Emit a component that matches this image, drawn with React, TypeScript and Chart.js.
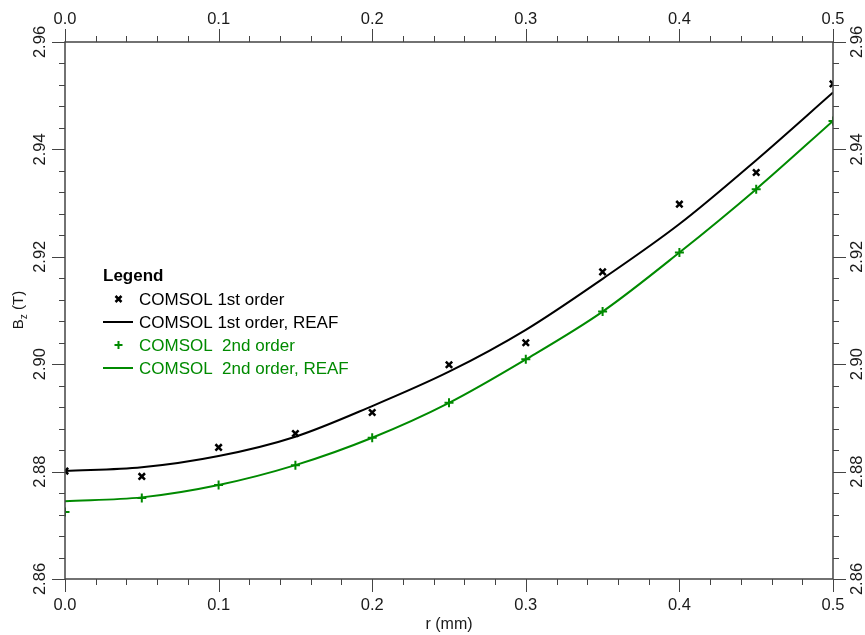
import React, { useEffect, useRef } from "react";
import { Chart, registerables } from "chart.js";

Chart.register(...registerables);

const rValues = [0, 0.05, 0.1, 0.15, 0.2, 0.25, 0.3, 0.35, 0.4, 0.45, 0.5];
const first = [2.8801, 2.8791, 2.8845, 2.8871, 2.891, 2.8999, 2.904, 2.9172, 2.9298, 2.9357, 2.9522];
const firstREAF = [2.8801, 2.8808, 2.8829, 2.8865, 2.8922, 2.8986, 2.9064, 2.9159, 2.9261, 2.938, 2.9506];
const second = [2.8725, 2.8751, 2.8775, 2.8812, 2.8863, 2.8928, 2.9009, 2.9098, 2.9208, 2.9326, 2.9453];
const secondREAF = [2.8745, 2.8752, 2.8775, 2.8812, 2.8863, 2.8928, 2.9009, 2.9098, 2.9208, 2.9326, 2.9453];
const xTicks = [0, 0.1, 0.2, 0.3, 0.4, 0.5];
const yTicks = [2.86, 2.88, 2.9, 2.92, 2.94, 2.96];
const legendLabels = ["COMSOL 1st order", "COMSOL 1st order, REAF", "COMSOL  2nd order", "COMSOL  2nd order, REAF"];

const BLACK = "#000000";
const GREEN = "#008a00";
const AXIS = "#444444";
const TEXT = "#1a1a1a";
const FONT = "'Liberation Sans', Arial, sans-serif";

const toPts = (ys: number[]) => rValues.map((x, i) => ({ x, y: ys[i] }));

const axesPlugin = {
  id: "customAxes",
  afterDraw(chart: any) {
    const { ctx, chartArea } = chart;
    const xs = chart.scales.x;
    const ys = chart.scales.y;
    const { left, right, top, bottom } = chartArea;
    ctx.save();
    ctx.strokeStyle = AXIS;
    ctx.lineWidth = 1.5;
    ctx.beginPath();
    ctx.rect(left, top, right - left, bottom - top);
    ctx.stroke();

    ctx.lineWidth = 1;
    for (let i = 0; i <= 25; i++) {
      const v = i * 0.02;
      const px = Math.round(xs.getPixelForValue(v)) + 0.5;
      const len = i % 5 === 0 ? 13 : 6;
      ctx.beginPath();
      ctx.moveTo(px, bottom);
      ctx.lineTo(px, bottom + len);
      ctx.moveTo(px, top);
      ctx.lineTo(px, top - len);
      ctx.stroke();
    }
    for (let i = 0; i <= 25; i++) {
      const v = 2.86 + i * 0.004;
      const py = Math.round(ys.getPixelForValue(v)) + 0.5;
      const len = i % 5 === 0 ? 13 : 6;
      ctx.beginPath();
      ctx.moveTo(left, py);
      ctx.lineTo(left - len, py);
      ctx.moveTo(right, py);
      ctx.lineTo(right + len, py);
      ctx.stroke();
    }

    ctx.fillStyle = TEXT;
    ctx.font = "16.5px " + FONT;
    ctx.textAlign = "center";
    ctx.textBaseline = "alphabetic";
    xTicks.forEach((v) => {
      const px = xs.getPixelForValue(v);
      ctx.fillText(v.toFixed(1), px, bottom + 31);
      ctx.fillText(v.toFixed(1), px, top - 18);
    });
    yTicks.forEach((v) => {
      const py = ys.getPixelForValue(v);
      ctx.save();
      ctx.translate(left - 20, py);
      ctx.rotate(-Math.PI / 2);
      ctx.fillText(v.toFixed(2), 0, 0);
      ctx.restore();
      ctx.save();
      ctx.translate(right + 29, py);
      ctx.rotate(-Math.PI / 2);
      ctx.fillText(v.toFixed(2), 0, 0);
      ctx.restore();
    });

    ctx.font = "16px " + FONT;
    ctx.textAlign = "center";
    ctx.fillText("r (mm)", (left + right) / 2, bottom + 50);

    ctx.save();
    ctx.translate(23, 310);
    ctx.rotate(-Math.PI / 2);
    ctx.textAlign = "left";
    ctx.font = "15px " + FONT;
    const bW = ctx.measureText("B").width;
    ctx.font = "10px " + FONT;
    const zW = ctx.measureText("z").width;
    ctx.font = "15px " + FONT;
    const rest = " (T)";
    const rW = ctx.measureText(rest).width;
    let x0 = -(bW + zW + rW) / 2;
    ctx.fillText("B", x0, 0);
    x0 += bW;
    ctx.font = "10px " + FONT;
    ctx.fillText("z", x0, 4);
    x0 += zW;
    ctx.font = "15px " + FONT;
    ctx.fillText(rest, x0, 0);
    ctx.restore();

    // legend
    ctx.textAlign = "left";
    ctx.font = "bold 17px " + FONT;
    ctx.fillStyle = BLACK;
    ctx.fillText("Legend", 103, 281);
    ctx.font = "17px " + FONT;
    const baselines = [305, 328, 351, 374];
    const colors = [BLACK, BLACK, GREEN, GREEN];
    legendLabels.forEach((lab, i) => {
      const by = baselines[i];
      const cy = by - 6;
      ctx.strokeStyle = colors[i];
      ctx.fillStyle = colors[i];
      ctx.lineWidth = 2;
      if (i === 0) {
        ctx.lineWidth = 2.5;
        ctx.beginPath();
        ctx.moveTo(115.5, cy - 3);
        ctx.lineTo(121.5, cy + 3);
        ctx.moveTo(121.5, cy - 3);
        ctx.lineTo(115.5, cy + 3);
        ctx.stroke();
      } else if (i === 2) {
        ctx.beginPath();
        ctx.moveTo(114.5, cy);
        ctx.lineTo(122.5, cy);
        ctx.moveTo(118.5, cy - 4);
        ctx.lineTo(118.5, cy + 4);
        ctx.stroke();
      } else {
        ctx.beginPath();
        ctx.moveTo(103, cy);
        ctx.lineTo(133, cy);
        ctx.stroke();
      }
      ctx.fillText(lab, 139, by);
    });
    ctx.restore();
  },
};

export default function App() {
  const ref = useRef<HTMLCanvasElement | null>(null);
  useEffect(() => {
    if (!ref.current) return;
    const chart = new Chart(ref.current, {
      type: "scatter",
      data: {
        datasets: [
          {
            label: legendLabels[1],
            data: toPts(firstREAF),
            showLine: true,
            borderColor: BLACK,
            borderWidth: 2,
            pointRadius: 0,
            cubicInterpolationMode: "monotone",
          },
          {
            label: legendLabels[3],
            data: toPts(secondREAF),
            showLine: true,
            borderColor: GREEN,
            borderWidth: 2,
            pointRadius: 0,
            cubicInterpolationMode: "monotone",
          },
          {
            label: legendLabels[0],
            data: toPts(first),
            showLine: false,
            pointStyle: "crossRot",
            pointRadius: 4.5,
            borderColor: BLACK,
            backgroundColor: BLACK,
            pointBorderWidth: 2.5,
          },
          {
            label: legendLabels[2],
            data: toPts(second),
            showLine: false,
            pointStyle: "cross",
            pointRadius: 4.5,
            borderColor: GREEN,
            backgroundColor: GREEN,
            pointBorderWidth: 2,
          },
        ],
      },
      options: {
        animation: false,
        responsive: false,
        maintainAspectRatio: false,
        layout: { padding: { left: 65, right: 32, top: 42, bottom: 56 } },
        plugins: { legend: { display: false }, tooltip: { enabled: false } },
        scales: {
          x: { type: "linear", min: 0, max: 0.5, display: false },
          y: { type: "linear", min: 2.86, max: 2.96, display: false },
        },
      },
      plugins: [axesPlugin],
    });
    return () => chart.destroy();
  }, []);
  return (
    <div style={{ position: "fixed", left: 0, top: 0, width: 865, height: 635, background: "#fff" }}>
      <canvas ref={ref} width={865} height={635} style={{ display: "block", width: 865, height: 635 }} />
    </div>
  );
}
